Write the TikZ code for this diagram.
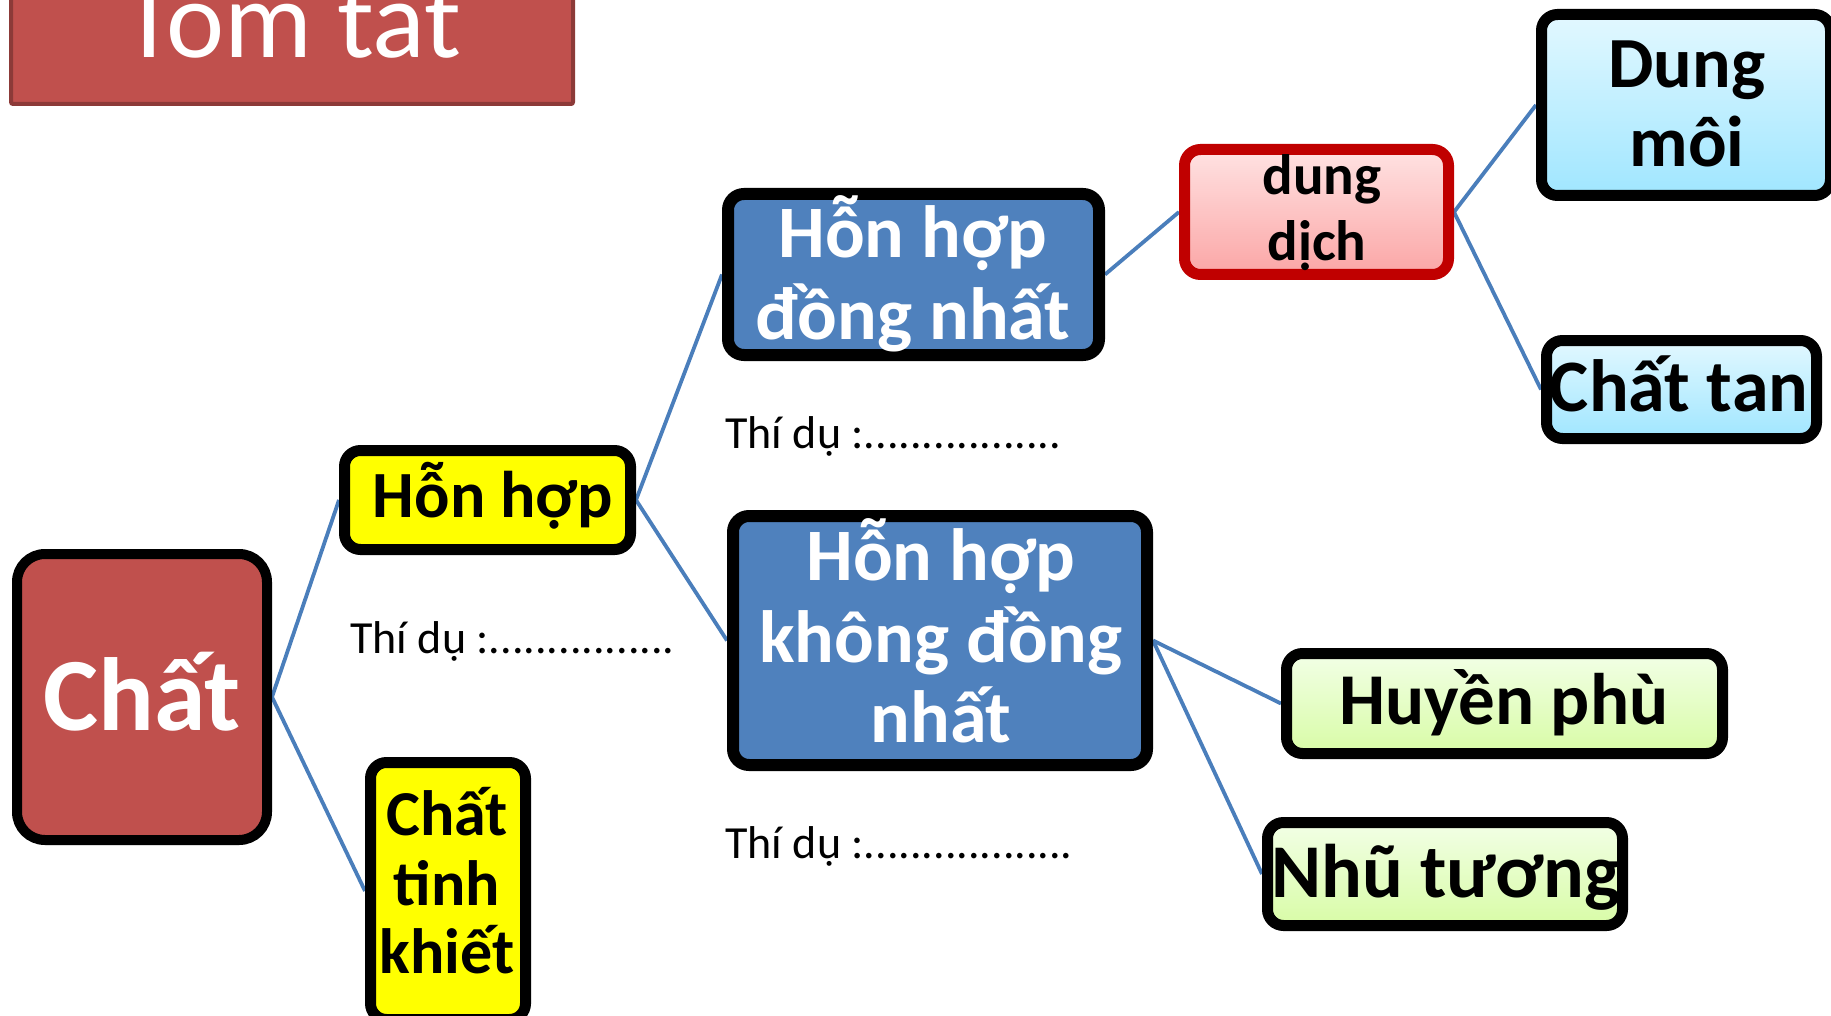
\documentclass[tikz,border=0pt]{standalone}
\usepackage{fontspec}
\setmainfont{Carlito}
\usetikzlibrary{shadows,backgrounds}
\definecolor{cred}{HTML}{C0504D}
\definecolor{credd}{HTML}{8C3A38}
\definecolor{cblue}{HTML}{4F81BD}
\definecolor{cline}{HTML}{4A7EBB}
\definecolor{cyel}{HTML}{FFFF00}
\definecolor{ddborder}{HTML}{C00000}
\definecolor{ddtop}{HTML}{FFE2E2}
\definecolor{ddbot}{HTML}{FBA6A6}
\definecolor{cytop}{HTML}{E2F8FF}
\definecolor{cybot}{HTML}{A0E6FF}
\definecolor{grtop}{HTML}{F2FFE6}
\definecolor{grbot}{HTML}{D8FCA6}
\newcommand{\myfs}[1]{\fontsize{#1}{#1}\selectfont\bfseries}
\newcommand{\myfr}[1]{\fontsize{#1}{#1}\selectfont}
\tikzset{
  box/.style={draw=black, line width=5.5pt, rounded corners=8pt, inner sep=0pt,
    drop shadow={shadow xshift=0.6pt, shadow yshift=-2.5pt, opacity=0.3}},
  lbl/.style={anchor=base, inner sep=0pt, text=black},
  wlbl/.style={anchor=base, inner sep=0pt, text=white},
  note/.style={anchor=base west, inner sep=0pt, text=black, font=\myfr{23}},
  conn/.style={draw=cline, line width=1.9pt}
}
\begin{document}
\begin{tikzpicture}[x=0.5pt,y=-0.5pt]
\useasboundingbox (0,0) rectangle (1831,1016);

% Title
\node[draw=credd, line width=2pt, fill=cred, rounded corners=1pt, inner sep=0pt,
      minimum width=281pt, minimum height=82pt] (title) at (292,22) {};
\node[wlbl, font=\myfr{55}] (titleT) at (292,58) {Tóm tắt};

% Chất
\node[box, line width=5pt, fill=cred, rounded corners=14pt, minimum width=125pt, minimum height=143pt] (chat) at (142,697) {};
\node[wlbl, font=\myfs{52}] (chatT) at (142,730) {Chất};

% Hỗn hợp
\node[box, fill=cyel, minimum width=143pt, minimum height=49.5pt] (hh) at (487.5,500) {};
\node[lbl, font=\myfs{33}] (hhT) at (493,517) {Hỗn hợp};

% Chất tinh khiết
\node[box, fill=cyel, minimum width=77.5pt, minimum height=128.5pt] (ctk) at (448,891) {};
\node[lbl, font=\myfs{32}] (ctk1) at (447,835) {Chất};
\node[lbl, font=\myfs{32}] (ctk2) at (447,905) {tinh};
\node[lbl, font=\myfs{32}] (ctk3) at (447,973) {khiết};

% Hỗn hợp đồng nhất
\node[box, line width=6pt, fill=cblue, minimum width=185.5pt, minimum height=80.5pt] (hhdn) at (913.5,274.5) {};
\node[wlbl, font=\myfs{37}] (hhdn1) at (913,257) {Hỗn hợp};
\node[wlbl, font=\myfs{37}] (hhdn2) at (913,339) {đồng nhất};

% Hỗn hợp không đồng nhất
\node[box, line width=6pt, fill=cblue, minimum width=207pt, minimum height=124.5pt] (hhkdn) at (940,640.5) {};
\node[wlbl, font=\myfs{37}] (hhkdn1) at (941,580) {Hỗn hợp};
\node[wlbl, font=\myfs{37}] (hhkdn2) at (941,662) {không đồng};
\node[wlbl, font=\myfs{37}] (hhkdn3) at (941,742) {nhất};

% dung dịch
\node[box, draw=ddborder, top color=ddtop, bottom color=ddbot, minimum width=132pt, minimum height=62.5pt] (dd) at (1316.5,212) {};
\node[lbl, font=\myfs{28.5}] (dd1) at (1322,195) {dung};
\node[lbl, font=\myfs{28.5}] (dd2) at (1317,261) {dịch};

% Dung môi
\node[box, top color=cytop, bottom color=cybot, minimum width=144.5pt, minimum height=90.5pt] (dm) at (1686,105) {};
\node[lbl, font=\myfs{36}] (dm1) at (1687,88) {Dung};
\node[lbl, font=\myfs{36}] (dm2) at (1687,167) {môi};

% Chất tan
\node[box, top color=cytop, bottom color=cybot, minimum width=135pt, minimum height=49pt] (ct) at (1681.5,389.5) {};
\node[lbl, font=\myfs{37}] (ctT) at (1679,411) {Chất tan};

% Huyền phù
\node[box, top color=grtop, bottom color=grbot, minimum width=218pt, minimum height=50pt] (hp) at (1504.5,703.5) {};
\node[lbl, font=\myfs{36.5}] (hpT) at (1504,724) {Huyền phù};

% Nhũ tương
\node[box, top color=grtop, bottom color=grbot, minimum width=177.5pt, minimum height=51.5pt] (nt) at (1445,874) {};
\node[lbl, font=\myfs{38}] (ntT) at (1446,897) {Nhũ tương};

% Examples
\node[note] (td1) at (350,653) {Thí dụ :................};
\node[note] (td2) at (725,448) {Thí dụ :.................};
\node[note] (td3) at (725,858) {Thí dụ :..................};

% Connectors
\begin{scope}[on background layer]
\draw[conn] (chat.east) -- (hh.west);
\draw[conn] (chat.east) -- (ctk.west);
\draw[conn] (hh.east) -- (hhdn.west);
\draw[conn] (hh.east) -- (hhkdn.west);
\draw[conn] (hhdn.east) -- (dd.west);
\draw[conn] (dd.east) -- (dm.west);
\draw[conn] (dd.east) -- (ct.west);
\draw[conn] (hhkdn.east) -- (hp.west);
\draw[conn] (hhkdn.east) -- (nt.west);
\end{scope}
\end{tikzpicture}
\end{document}
